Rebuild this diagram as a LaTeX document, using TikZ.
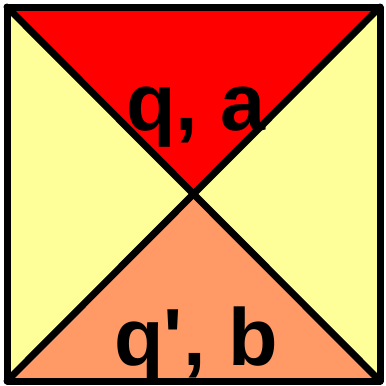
\documentclass[tikz,border=0pt]{standalone}
\usepackage{fontspec}
\newfontfamily\lblfont{Liberation Sans}
\definecolor{topred}{HTML}{FF0000}
\definecolor{salmon}{HTML}{FF9966}
\definecolor{paleyellow}{HTML}{FFFF99}
\begin{document}
\begin{tikzpicture}[x=1pt,y=-1pt,
  edge/.style={line width=7pt,line join=round,line cap=round},
  lbl/.style={font=\lblfont\fontsize{81}{81}\selectfont\bfseries,inner sep=0pt,anchor=base}]
\useasboundingbox (0,0) rectangle (386,386);
\coordinate (tl) at (7,7);
\coordinate (tr) at (380,7);
\coordinate (br) at (380,381);
\coordinate (bl) at (7,381);
\coordinate (c) at (193.5,194);
\fill[paleyellow] (tl) -- (tr) -- (br) -- (bl) -- cycle;
\fill[topred] (tl) -- (tr) -- (c) -- cycle;
\fill[salmon] (bl) -- (br) -- (c) -- cycle;
\draw[edge] (tl) -- (br);
\draw[edge] (tr) -- (bl);
\node[lbl] (top) at (196,130) {q, a};
\node[lbl] (bot) at (196,365) {q\textquotesingle, b};
\draw[edge] (tl) -- (tr) -- (br) -- (bl) -- cycle;
\end{tikzpicture}
\end{document}
